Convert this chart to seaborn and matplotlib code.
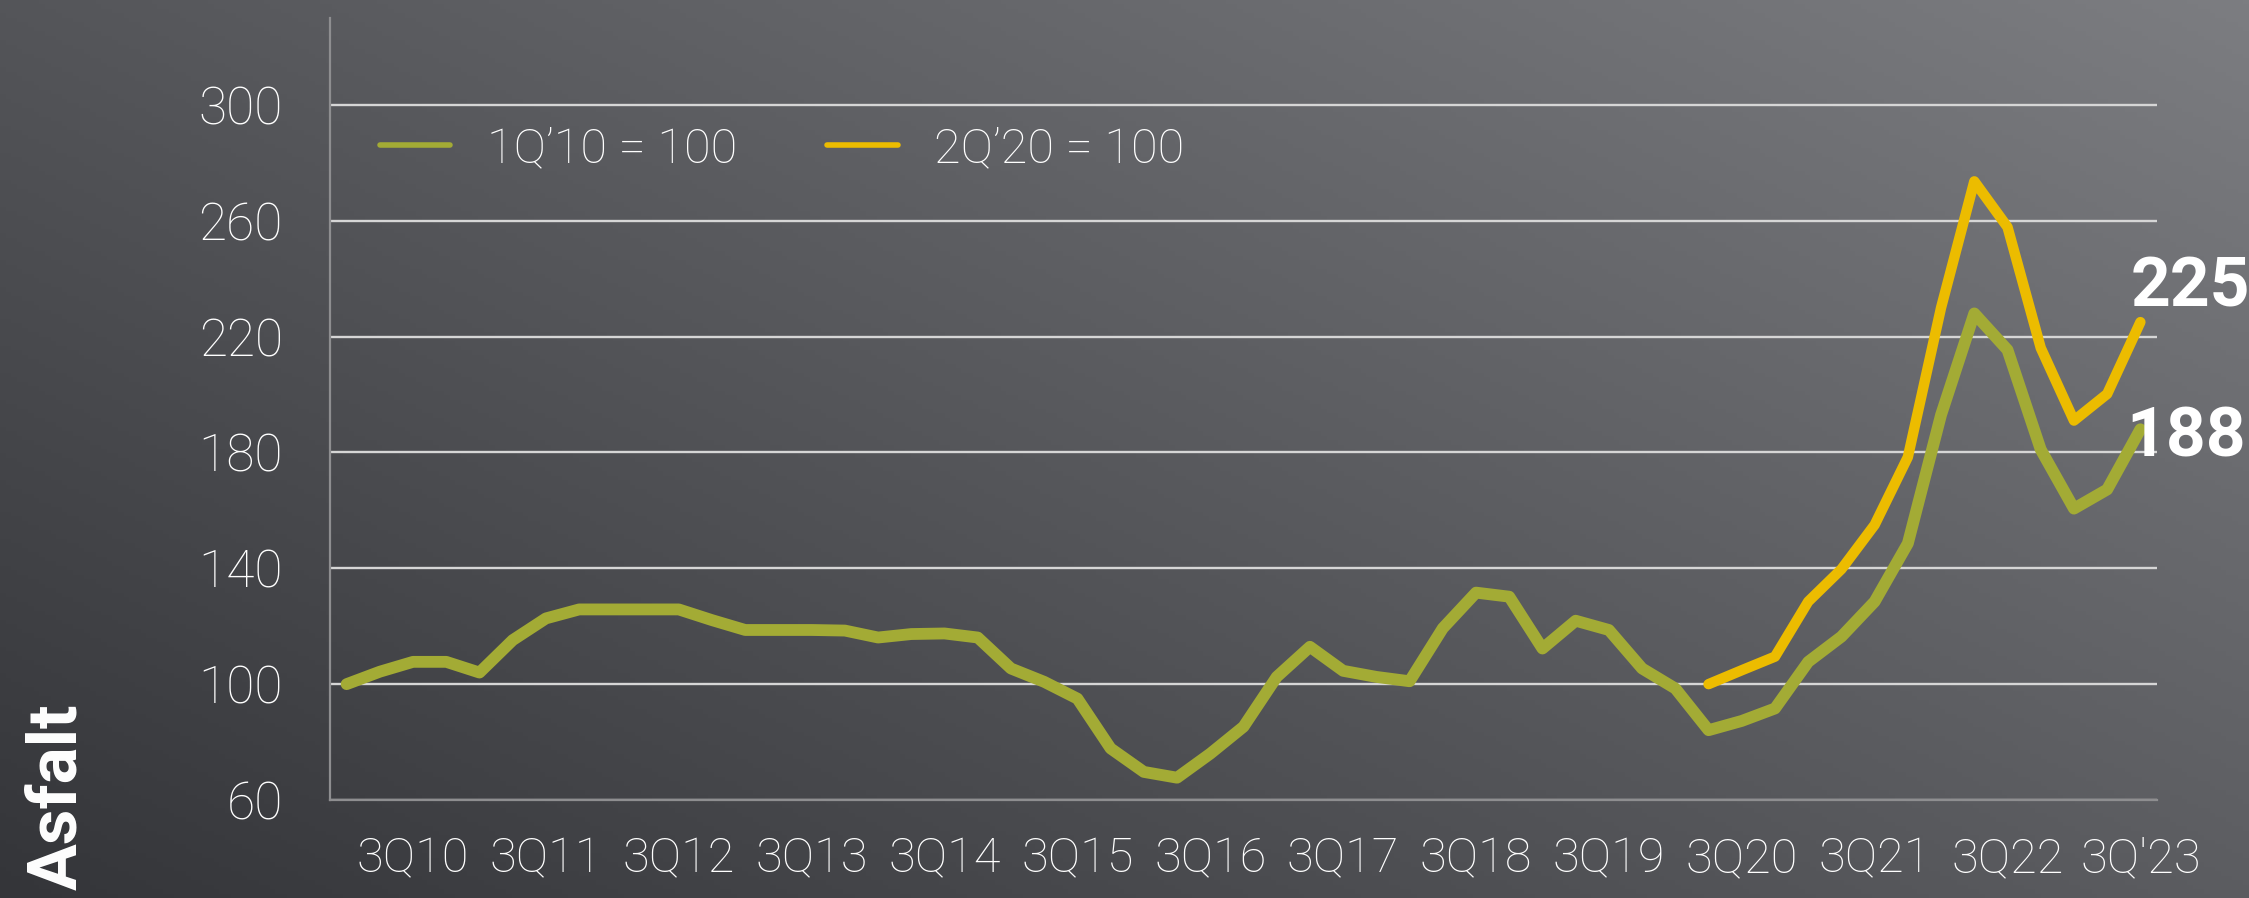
import numpy as np
import pandas as pd
import matplotlib
matplotlib.use("Agg")
import matplotlib.pyplot as plt
import seaborn as sns
from matplotlib.lines import Line2D

# --- data ---
quarters = [f"{q}Q{y:02d}" for y in range(10, 24) for q in range(1, 5)][:55]

# index 1Q'10 = 100
index_1q10 = [100, 104.3, 107.7, 107.7, 104, 115.2, 122.7, 125.8, 125.8, 125.8,
              125.8, 122.1, 118.7, 118.7, 118.7, 118.5, 116.1, 117.3, 117.5, 116.1,
              105.4, 100.8, 95, 77.8, 69.7, 67.7, 76, 85.3, 102.5, 112.9,
              104.6, 102.5, 101, 119.3, 131.6, 130.2, 112.3, 121.9, 118.7, 105.4,
              98.5, 84.1, 87.3, 91.6, 107.7, 116.4, 128.5, 148.6, 193, 228,
              215.4, 181, 160.6, 167.2, 188]

# index 2Q'20 = 100 (starts at 2Q20)
start_2q20 = "2Q20"
index_2q20 = [100, 104.8, 109.5, 128.5, 139.7, 155, 178.4, 230, 273.6, 257.8,
              216.1, 191, 200.2, 225]

tick_quarters = ["3Q10", "3Q11", "3Q12", "3Q13", "3Q14", "3Q15", "3Q16",
                 "3Q17", "3Q18", "3Q19", "3Q20", "3Q21", "3Q22", "3Q23"]
tick_labels = ["3Q10", "3Q11", "3Q12", "3Q13", "3Q14", "3Q15", "3Q16",
               "3Q17", "3Q18", "3Q19", "3Q20", "3Q21", "3Q22", "3Q'23"]
y_ticks = [60, 100, 140, 180, 220, 260, 300]

series_names = ["1Q\u201910 = 100", "2Q\u201920 = 100"]
green = "#A3AB35"
yellow = "#ECBC00"

df_a = pd.DataFrame({"quarter": quarters, "value": index_1q10})
df_a["pos"] = df_a.index
start = quarters.index(start_2q20)
df_b = pd.DataFrame({"quarter": quarters[start:start + len(index_2q20)],
                     "value": index_2q20})
df_b["pos"] = [quarters.index(q) for q in df_b["quarter"]]

# --- style ---
sns.set_theme(style="white")
plt.rcParams["font.family"] = ["Roboto", "DejaVu Sans"]

W, H = 2249, 898
fig = plt.figure(figsize=(W / 100, H / 100), dpi=100)

# gradient background
bg = fig.add_axes([0, 0, 1, 1], zorder=0)
yy, xx = np.mgrid[0:1:200j, 0:1:400j]
t = 0.55 * xx + 0.45 * (1 - yy)
dark = np.array([52, 53, 57]) / 255
light = np.array([124, 125, 129]) / 255
img = dark[None, None, :] + t[..., None] * (light - dark)[None, None, :]
bg.imshow(img, extent=[0, 1, 0, 1], aspect="auto", origin="upper")
bg.axis("off")

ax = fig.add_axes([330 / W, 1 - 800 / H, (2157 - 330) / W, (800 - 18) / H], zorder=1)
ax.set_facecolor("none")

sns.lineplot(data=df_a, x="pos", y="value", ax=ax, color=green,
             solid_capstyle="round", solid_joinstyle="round", zorder=3)
sns.lineplot(data=df_b, x="pos", y="value", ax=ax, color=yellow,
             solid_capstyle="round", solid_joinstyle="round", zorder=4)
# make sure the widths stick
ax.lines[0].set_linewidth(8.5)
ax.lines[1].set_linewidth(7.5)

ax.set_xlim(-0.5, len(quarters) - 0.5)
ax.set_ylim(60, 330)
ax.set_xlabel("")
ax.set_ylabel("")

ax.set_yticks(y_ticks)
ax.yaxis.grid(True, color="#d6d6d6", lw=1.7)
ax.set_axisbelow(True)

ax.set_xticks([quarters.index(q) for q in tick_quarters])
ax.set_xticklabels(tick_labels)
ax.set_xticks(np.arange(-0.5, len(quarters), 1), minor=True)

axis_grey = "#8e8e90"
for side in ["top", "right"]:
    ax.spines[side].set_visible(False)
for side in ["left", "bottom"]:
    ax.spines[side].set_color(axis_grey)
    ax.spines[side].set_linewidth(1.6)

ax.tick_params(axis="x", which="major", length=0, pad=26, labelsize=35,
               labelcolor="white")
ax.tick_params(axis="x", which="minor", length=12, width=1.4, color=axis_grey,
               direction="out")
ax.tick_params(axis="y", length=12, width=1.4, color=axis_grey, pad=22,
               labelsize=37, labelcolor="white")
for lab in ax.get_xticklabels() + ax.get_yticklabels():
    lab.set_fontweight("light")

# end labels
ax.annotate(f"{index_2q20[-1]:.0f}", xy=(df_b["pos"].iloc[-1], index_2q20[-1]),
            xytext=(-7, 11), textcoords="offset points", ha="left", va="baseline",
            fontsize=50, fontweight="bold", color="white", zorder=5)
ax.annotate(f"{index_1q10[-1]:.0f}", xy=(df_a["pos"].iloc[-1], index_1q10[-1]),
            xytext=(-10, -19.5), textcoords="offset points", ha="left", va="baseline",
            fontsize=50, fontweight="bold", color="white", zorder=5)

# legend
handles = [Line2D([], [], color=green, lw=4), Line2D([], [], color=yellow, lw=4)]
leg = fig.legend(handles, series_names, loc="center left",
                 bbox_to_anchor=(380 / W, 1 - 149 / H), ncol=2, frameon=False,
                 handlelength=1.45, handletextpad=0.75, columnspacing=1.85,
                 borderpad=0, borderaxespad=0,
                 prop={"size": 35, "weight": "light"})
for txt in leg.get_texts():
    txt.set_color("white")

fig.text(58 / W, 1 - 797 / H, "Asfalt", rotation=90, ha="center", va="center",
         fontsize=50, fontweight="bold", color="white")

fig.savefig("out.png", dpi=100)
